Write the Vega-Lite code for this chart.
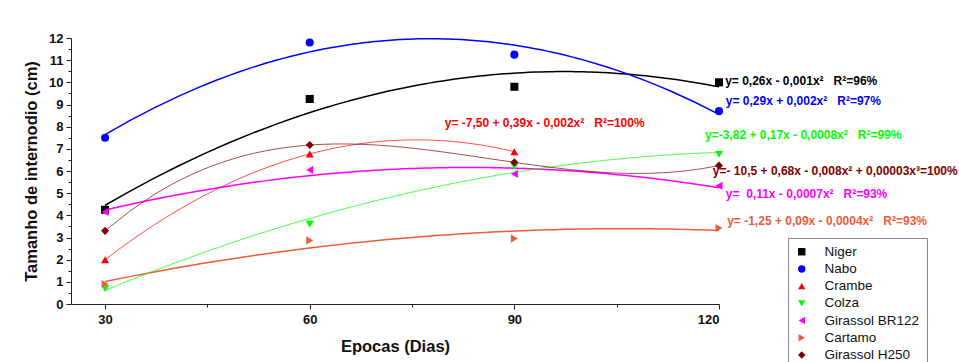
{
  "$schema": "https://vega.github.io/schema/vega-lite/v6.json",
  "width": 648,
  "height": 266,
  "autosize": "none",
  "padding": {"left": 71, "top": 38, "right": 240, "bottom": 58},
  "background": "white",
  "config": {
    "view": {"stroke": null},
    "axis": {
      "grid": false,
      "domainColor": "#222222",
      "tickColor": "#222222",
      "labelFont": "Liberation Sans",
      "labelFontWeight": "bold",
      "labelFontSize": 13,
      "labelColor": "#111111",
      "titleFont": "Liberation Sans",
      "titleFontWeight": "bold",
      "titleFontSize": 16.5,
      "titleColor": "#111111"
    },
    "legend": {
      "orient": "none",
      "legendX": 717,
      "legendY": 200,
      "padding": 7,
      "strokeColor": "#8a8a8a",
      "fillColor": "white",
      "labelFont": "Liberation Sans",
      "labelFontSize": 13.5,
      "labelColor": "#111111",
      "symbolSize": 55,
      "rowPadding": 2.2,
      "labelOffset": 16,
      "title": null
    }
  },
  "datasets": {
    "pts": [
      {"series": "Niger", "x": 30, "y": 4.25},
      {"series": "Niger", "x": 60, "y": 9.25},
      {"series": "Niger", "x": 90, "y": 9.8},
      {"series": "Niger", "x": 120, "y": 10.0},
      {"series": "Nabo", "x": 30, "y": 7.5},
      {"series": "Nabo", "x": 60, "y": 11.8},
      {"series": "Nabo", "x": 90, "y": 11.25},
      {"series": "Nabo", "x": 120, "y": 8.7},
      {"series": "Crambe", "x": 30, "y": 2.0},
      {"series": "Crambe", "x": 60, "y": 6.77},
      {"series": "Crambe", "x": 90, "y": 6.87},
      {"series": "Colza", "x": 30, "y": 0.7},
      {"series": "Colza", "x": 60, "y": 3.6},
      {"series": "Colza", "x": 90, "y": 6.2},
      {"series": "Colza", "x": 120, "y": 6.75},
      {"series": "Girassol BR122", "x": 30, "y": 4.15},
      {"series": "Girassol BR122", "x": 60, "y": 6.05},
      {"series": "Girassol BR122", "x": 90, "y": 5.87},
      {"series": "Girassol BR122", "x": 120, "y": 5.33},
      {"series": "Cartamo", "x": 30, "y": 0.9},
      {"series": "Cartamo", "x": 60, "y": 2.87},
      {"series": "Cartamo", "x": 90, "y": 2.95},
      {"series": "Cartamo", "x": 120, "y": 3.43},
      {"series": "Girassol H250", "x": 30, "y": 3.3},
      {"series": "Girassol H250", "x": 60, "y": 7.17},
      {"series": "Girassol H250", "x": 90, "y": 6.39},
      {"series": "Girassol H250", "x": 120, "y": 6.25}
    ],
    "eq": [
      {"series": "Niger", "x": 120.9, "y": 10.07, "label": "y= 0,26x - 0,001x²\u00a0\u00a0\u00a0R²=96%"},
      {"series": "Nabo", "x": 121.0, "y": 9.18, "label": "y= 0,29x + 0,002x²\u00a0\u00a0\u00a0R²=97%"},
      {"series": "Crambe", "x": 79.8, "y": 8.18, "label": "y= -7,50 + 0,39x - 0,002x²\u00a0\u00a0\u00a0R²=100%"},
      {"series": "Colza", "x": 117.95, "y": 7.64, "label": "y=-3,82 + 0,17x - 0,0008x²\u00a0\u00a0\u00a0R²=99%"},
      {"series": "Girassol H250", "x": 119.1, "y": 6.01, "label": "y=- 10,5 + 0,68x - 0,008x² + 0,00003x³=100%"},
      {"series": "Girassol BR122", "x": 121.0, "y": 4.98, "label": "y=\u00a0 0,11x - 0,0007x²\u00a0\u00a0\u00a0R²=93%"},
      {"series": "Cartamo", "x": 121.2, "y": 3.76, "label": "y= -1,25 + 0,09x - 0,0004x²\u00a0\u00a0\u00a0R²=93%"}
    ]
  },
  "layer": [
    {
      "data": {"name": "pts"},
      "mark": {"type": "point", "opacity": 0},
      "encoding": {
        "x": {"field": "x", "type": "quantitative", "scale": {"domain": [25, 120], "nice": false, "zero": false},
              "axis": {"orient": "bottom", "values": [45, 75, 105], "tickSize": 3, "labels": false, "domain": false, "title": null}},
        "y": {"field": "y", "type": "quantitative", "scale": {"domain": [0, 12], "nice": false},
              "axis": {"orient": "left", "values": [0.5, 1.5, 2.5, 3.5, 4.5, 5.5, 6.5, 7.5, 8.5, 9.5, 10.5, 11.5], "tickSize": 3, "labels": false, "domain": false, "title": null}}
      }
    },
    {
      "data": {"name": "pts"},
      "transform": [
        {"filter": "datum.series === 'Niger' || datum.series === 'Nabo' || datum.series === 'Girassol BR122' || datum.series === 'Cartamo'"},
        {"regression": "y", "on": "x", "method": "poly", "order": 2, "groupby": ["series"]}
      ],
      "mark": {"type": "line", "strokeWidth": 1.5},
      "encoding": {
        "x": {"field": "x", "type": "quantitative", "axis": null},
        "y": {"field": "y", "type": "quantitative", "axis": null},
        "color": {"field": "series", "type": "nominal", "legend": null}
      }
    },
    {
      "data": {"name": "pts"},
      "transform": [
        {"filter": "datum.series === 'Crambe' || datum.series === 'Colza'"},
        {"regression": "y", "on": "x", "method": "poly", "order": 2, "groupby": ["series"]}
      ],
      "mark": {"type": "line", "strokeWidth": 1, "opacity": 0.7},
      "encoding": {
        "x": {"field": "x", "type": "quantitative", "axis": null},
        "y": {"field": "y", "type": "quantitative", "axis": null},
        "color": {"field": "series", "type": "nominal", "legend": null}
      }
    },
    {
      "data": {"name": "pts"},
      "transform": [
        {"filter": "datum.series === 'Girassol H250'"},
        {"regression": "y", "on": "x", "method": "poly", "order": 3, "groupby": ["series"]}
      ],
      "mark": {"type": "line", "strokeWidth": 1, "opacity": 0.7},
      "encoding": {
        "x": {"field": "x", "type": "quantitative", "axis": null},
        "y": {"field": "y", "type": "quantitative", "axis": null},
        "color": {"field": "series", "type": "nominal", "legend": null}
      }
    },
    {
      "data": {"name": "pts"},
      "mark": {"type": "point", "filled": true, "opacity": 1, "size": 65},
      "encoding": {
        "x": {"field": "x", "type": "quantitative", "title": "Epocas (Dias)",
              "axis": {"orient": "bottom", "values": [30, 60, 90, 120], "tickSize": 5, "labelPadding": 4, "titlePadding": 12}},
        "y": {"field": "y", "type": "quantitative", "title": "Tamanho de internodio (cm)",
              "axis": {"orient": "left", "values": [0, 1, 2, 3, 4, 5, 6, 7, 8, 9, 10, 11, 12], "tickSize": 5, "labelPadding": 3, "titlePadding": 9}},
        "color": {"field": "series", "type": "nominal",
                  "scale": {"domain": ["Niger", "Nabo", "Crambe", "Colza", "Girassol BR122", "Cartamo", "Girassol H250"],
                            "range": ["#000000", "#0000FF", "#FF0000", "#00FF00", "#FF00FF", "#EE5B3B", "#800000"]}},
        "shape": {"field": "series", "type": "nominal",
                  "scale": {"domain": ["Niger", "Nabo", "Crambe", "Colza", "Girassol BR122", "Cartamo", "Girassol H250"],
                            "range": ["square", "circle", "triangle-up", "triangle-down", "triangle-left", "triangle-right", "diamond"]}}
      }
    },
    {
      "data": {"name": "eq"},
      "mark": {"type": "text", "align": "left", "baseline": "middle", "font": "Liberation Sans", "fontWeight": "bold", "fontSize": 12},
      "encoding": {
        "x": {"field": "x", "type": "quantitative", "axis": null},
        "y": {"field": "y", "type": "quantitative", "axis": null},
        "text": {"field": "label"},
        "color": {"field": "series", "type": "nominal", "legend": null}
      }
    }
  ],
  "resolve": {"axis": {"x": "independent", "y": "independent"}, "legend": {"color": "independent", "shape": "independent"}}
}
